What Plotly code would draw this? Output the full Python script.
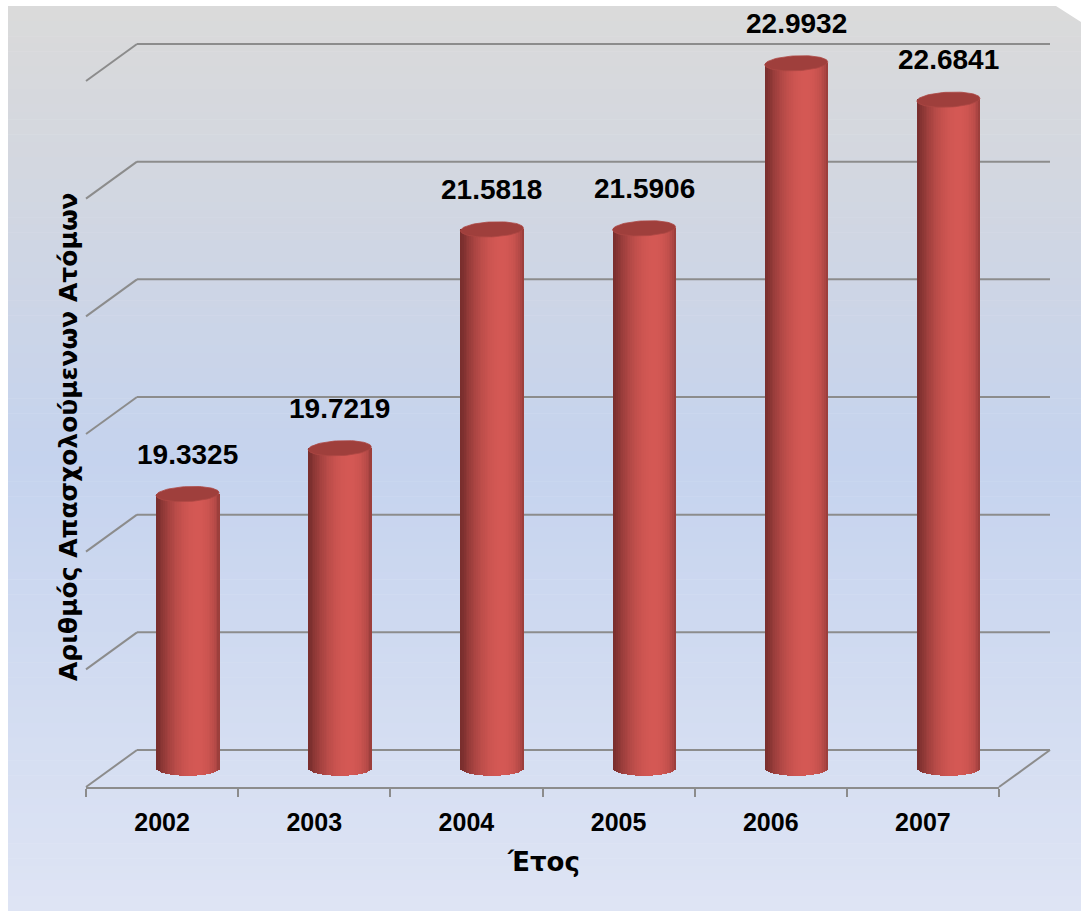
import numpy as np
import plotly.graph_objects as go

# ---------------- data ----------------
years = ["2002", "2003", "2004", "2005", "2006", "2007"]
values = [19.3325, 19.7219, 21.5818, 21.5906, 22.9932, 22.6841]
y_title = "Αριθμός Απασχολούμενων Ατόμων"
x_title = "Έτος"
y_min, y_max, y_step = 17, 23, 1

# ---------------- geometry (styles) ----------------
W, H = 1081, 911
BX0, BX1 = 137, 1050        # back wall x extent (px)
BY_LO, BY_HI = 750, 44      # back wall px of y_min / y_max
DX, DY = -51, 37            # offset of the front plane (px)
pxu = (BY_LO - BY_HI) / (y_max - y_min)
PAD = 0.3                   # extra value range on mid axis (for cylinder bottoms)
BAR_HALF = 0.207            # half bar width in category units
CAP_B = 7.5 / pxu           # half height of ellipse in value units
N_STRIPS = 36
GRID_COL = "#8c8c8c"
TITLE_FONT = "DejaVu Sans"


def fx(xp):
    return xp / W


def fy(yp):
    return 1 - yp / H


def back_px(v):
    return BY_LO - (v - y_min) * pxu


fig = go.Figure()

# ---------------- background gradient ----------------
stops = [(0.0, (218, 218, 218)), (0.18, (211, 215, 224)), (0.5, (197, 211, 238)), (1.0, (222, 228, 244))]


def grad(t):
    for (t0, c0), (t1, c1) in zip(stops[:-1], stops[1:]):
        if t0 <= t <= t1:
            f = (t - t0) / (t1 - t0)
            return "rgb(%d,%d,%d)" % tuple(round(a + (b - a) * f) for a, b in zip(c0, c1))
    return "rgb(%d,%d,%d)" % stops[-1][1]


shapes = []
nb = 120
top, bot = 6, H
for k in range(nb):
    y0 = top + (bot - top) * k / nb
    y1 = top + (bot - top) * (k + 1) / nb + 0.6
    shapes.append(dict(type="rect", xref="paper", yref="paper", x0=fx(8), x1=1, y0=fy(y1), y1=fy(y0),
                       fillcolor=grad(k / (nb - 1)), line=dict(width=0), layer="below"))
shapes.append(dict(type="path", xref="paper", yref="paper",
                   path="M %f %f L %f %f L %f %f Z" % (fx(1056), fy(6), fx(1081), fy(6), fx(1081), fy(22)),
                   fillcolor="white", line=dict(width=0), layer="below"))

# ---------------- back-wall gridlines, left diagonals & floor ----------------
for v in range(y_min, y_max + 1, y_step):
    yb = back_px(v)
    shapes.append(dict(type="line", xref="paper", yref="paper",
                       x0=fx(BX0), y0=fy(yb), x1=fx(BX1), y1=fy(yb),
                       line=dict(color=GRID_COL, width=2), layer="below"))
    shapes.append(dict(type="line", xref="paper", yref="paper",
                       x0=fx(BX0 + DX), y0=fy(yb + DY), x1=fx(BX0), y1=fy(yb),
                       line=dict(color=GRID_COL, width=2), layer="below"))
yb = back_px(y_min)
shapes.append(dict(type="line", xref="paper", yref="paper",
                   x0=fx(BX1 + DX), y0=fy(yb + DY), x1=fx(BX1), y1=fy(yb),
                   line=dict(color=GRID_COL, width=2), layer="below"))

# ---------------- back wall axis ----------------
fig.add_trace(go.Scatter(x=[0], y=[y_min], mode="markers", marker=dict(opacity=0),
                         hoverinfo="skip", showlegend=False, xaxis="x", yaxis="y"))

# ---------------- cylinders (mid plane) ----------------
xs = np.arange(len(years))
edges = np.linspace(-BAR_HALF, BAR_HALF, N_STRIPS + 1)
dw = edges[1] - edges[0]
dark = np.array([96, 34, 34])
light = np.array([212, 88, 84])
theta0 = np.arcsin(0.3)
for k in range(N_STRIPS):
    c = (edges[k] + edges[k + 1]) / 2
    u = c / BAR_HALF
    th = np.arcsin(u)
    f = 0.22 + 0.78 * max(0.0, np.cos(th - theta0)) ** 1.4
    col = dark + (light - dark) * f
    col = "rgb(%d,%d,%d)" % tuple(col.round().astype(int))
    base = y_min - CAP_B * np.sqrt(max(0.0, 1 - u * u))
    fig.add_trace(go.Bar(x=xs, y=[v - base for v in values], base=base,
                         offset=edges[k] - dw * 0.03, width=dw * 1.06,
                         marker=dict(color=col, line=dict(width=0)),
                         hoverinfo="skip", showlegend=False, xaxis="x2", yaxis="y2"))

# caps
t = np.linspace(0, 2 * np.pi, 80)
cx, cy = [], []
for i, v in enumerate(values):
    cx += list(i + BAR_HALF * np.cos(t)) + [None]
    cy += list(v + CAP_B * np.sin(t) + 0.012 * np.cos(t)) + [None]
fig.add_trace(go.Scatter(x=cx, y=cy, mode="lines", fill="toself", fillcolor="#9f3f3c",
                         line=dict(width=0.8, color="#ad4844"), hoverinfo="skip",
                         showlegend=False, xaxis="x2", yaxis="y2"))

# ---------------- front axis (category labels) ----------------
fig.add_trace(go.Scatter(x=years, y=[0] * len(years), mode="markers", marker=dict(opacity=0),
                         hoverinfo="skip", showlegend=False, xaxis="x3", yaxis="y3"))

annotations = []
for i, v in enumerate(values):
    annotations.append(dict(x=i, y=v, xref="x2", yref="y2", text=f"{v:.4f}", showarrow=False,
                            yshift=40, yanchor="middle",
                            font=dict(family="Liberation Sans, Arial", size=28, color="black", weight="bold")))
annotations.append(dict(x=fx(543), y=fy(862), xref="paper", yref="paper", text="<b>" + x_title + "</b>",
                        showarrow=False, xanchor="center", yanchor="middle",
                        font=dict(family=TITLE_FONT, size=26, color="black")))
annotations.append(dict(x=fx(68), y=fy(437), xref="paper", yref="paper", text="<b>" + y_title + "</b>",
                        showarrow=False, textangle=-90, xanchor="center", yanchor="middle",
                        font=dict(family=TITLE_FONT, size=25, color="black")))

mid_top = BY_HI + DY / 2 - PAD * pxu
mid_bot = BY_LO + DY / 2 + PAD * pxu
front_y = BY_LO + DY

fig.update_layout(
    width=W, height=H, margin=dict(l=0, r=0, t=0, b=0),
    paper_bgcolor="white", plot_bgcolor="rgba(0,0,0,0)",
    barmode="overlay", bargap=0, showlegend=False,
    shapes=shapes, annotations=annotations,
    xaxis=dict(domain=[fx(BX0), fx(BX1)], range=[0, 1], visible=False, anchor="y"),
    yaxis=dict(domain=[fy(BY_LO), fy(BY_HI)], range=[y_min, y_max], visible=False, anchor="x"),
    xaxis2=dict(domain=[fx(BX0 + DX / 2), fx(BX1 + DX / 2)], range=[-0.5, len(years) - 0.5],
                visible=False, anchor="y2"),
    yaxis2=dict(domain=[fy(mid_bot), fy(mid_top)], range=[y_min - PAD, y_max + PAD],
                visible=False, anchor="x2"),
    xaxis3=dict(domain=[fx(BX0 + DX), fx(BX1 + DX)], type="category", categoryorder="array",
                categoryarray=years, range=[-0.5, len(years) - 0.5], tickson="boundaries",
                ticks="outside", ticklen=8, tickwidth=2, tickcolor=GRID_COL,
                showline=True, linecolor=GRID_COL, linewidth=2, showgrid=False, zeroline=False,
                ticklabelstandoff=12,
                tickfont=dict(family="Liberation Sans, Arial", size=25, color="black", weight="bold"),
                anchor="y3"),
    yaxis3=dict(domain=[fy(front_y), fy(front_y - 50)], visible=False, anchor="x3"),
)

fig.write_html("out.html")
